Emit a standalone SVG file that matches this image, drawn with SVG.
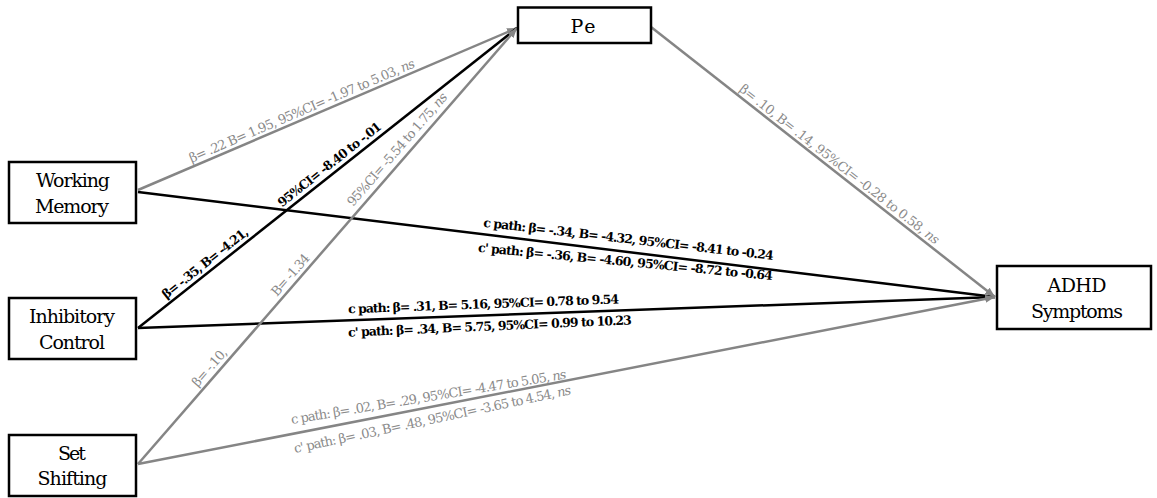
<svg xmlns="http://www.w3.org/2000/svg" width="1157" height="498" viewBox="0 0 1157 498">
  <defs>
    <marker id="arrow-gray" viewBox="0 0 10 8" refX="10" refY="4" markerWidth="10" markerHeight="8" markerUnits="userSpaceOnUse" orient="auto">
      <path d="M0,0 L10,4 L0,8 Z" fill="#858585"/>
    </marker>
  </defs>
  <style>
    text { font-family: "DejaVu Serif", "Liberation Serif", serif; }
    .box { fill: #ffffff; stroke: #000000; stroke-width: 2.5; }
    .node-label { font-size: 19px; fill: #000000; text-anchor: middle; }
    .sig { stroke: #000000; stroke-width: 2.5; fill: none; }
    .ns { stroke: #858585; stroke-width: 2.5; fill: none; marker-end: url(#arrow-gray); }
    .lab-sig { font-size: 12.5px; font-weight: bold; fill: #000000; }
    .lab-ns { font-size: 13px; fill: #8a8a8a; }
  </style>

  <rect width="1157" height="498" fill="#ffffff"/>

  <!-- paths between predictors, mediator and outcome -->
  <g id="connectors">
    <line class="ns" x1="138" y1="190" x2="517" y2="28"/>
    <line class="sig" x1="138" y1="192" x2="995" y2="297"/>
    <line class="sig" x1="138" y1="328" x2="517" y2="28"/>
    <line class="sig" x1="138" y1="328" x2="995" y2="297"/>
    <line class="ns" x1="138" y1="464" x2="517" y2="28"/>
    <line class="ns" x1="138" y1="464" x2="995" y2="297"/>
    <line class="ns" x1="651" y1="27" x2="995" y2="297"/>
  </g>

  <!-- path coefficients -->
  <g id="path-labels">
    <text class="lab-ns" x="191.6" y="162.7" textLength="244" transform="rotate(-23.15 191.6 162.7)">β= .22 B= 1.95, 95%CI= -1.97 to 5.03, <tspan font-style="italic">ns</tspan></text>

    <text class="lab-sig" x="166.3" y="299.3" textLength="106" transform="rotate(-38.36 166.3 299.3)">β= -.35, B= -4.21,</text>
    <text class="lab-sig" x="282" y="207.5" textLength="128" transform="rotate(-38.36 282 207.5)">95%CI= -8.40 to -.01</text>

    <text class="lab-ns" x="197.8" y="387.5" textLength="46" transform="rotate(-48.99 197.8 387.5)">β= -.10,</text>
    <text class="lab-ns" x="277" y="297" textLength="51" transform="rotate(-48.99 277 297)">B= -1.34</text>
    <text class="lab-ns" x="353" y="207" textLength="145" transform="rotate(-48.99 353 207)">95%CI= -5.54 to 1.75, <tspan font-style="italic">ns</tspan></text>

    <text class="lab-ns" x="738.5" y="90.6" textLength="250" transform="rotate(38.13 738.5 90.6)">β= .10, B= .14, 95%CI= -0.28 to 0.58, <tspan font-style="italic">ns</tspan></text>

    <text class="lab-sig" x="483" y="226.7" textLength="292" transform="rotate(6.55 483 226.7)">c path: β= -.34, B= -4.32, 95%CI= -8.41 to -0.24</text>
    <text class="lab-sig" x="477.7" y="251.7" textLength="296" transform="rotate(5.5 477.7 251.7)">c' path: β= -.36, B= -4.60, 95%CI= -8.72 to -0.64</text>

    <text class="lab-sig" x="348.3" y="313.3" textLength="271" transform="rotate(-2.1 348.3 313.3)">c path: β= .31, B= 5.16, 95%CI= 0.78 to 9.54</text>
    <text class="lab-sig" x="348.3" y="336.7" textLength="284" transform="rotate(-2.5 348.3 336.7)">c' path: β= .34, B= 5.75, 95%CI= 0.99 to 10.23</text>

    <text class="lab-ns" x="291.7" y="424" textLength="279" transform="rotate(-9.4 291.7 424)">c path: β= .02, B= .29, 95%CI= -4.47 to 5.05, <tspan font-style="italic">ns</tspan></text>
    <text class="lab-ns" x="295" y="453" textLength="283" transform="rotate(-12 295 453)">c' path: β= .03, B= .48, 95%CI= -3.65 to 4.54, <tspan font-style="italic">ns</tspan></text>
  </g>

  <g id="node-pe">
    <rect class="box" x="518" y="7.5" width="133" height="35.5"/>
    <text class="node-label" x="583" y="32.5" textLength="25">Pe</text>
  </g>

  <g id="node-working-memory">
    <rect class="box" x="9" y="162" width="127" height="61"/>
    <text class="node-label" x="73" y="187" textLength="74">Working</text>
    <text class="node-label" x="72" y="213" textLength="74">Memory</text>
  </g>

  <g id="node-inhibitory-control">
    <rect class="box" x="9" y="298" width="127" height="61"/>
    <text class="node-label" x="72" y="323" textLength="86">Inhibitory</text>
    <text class="node-label" x="72" y="349" textLength="66">Control</text>
  </g>

  <g id="node-set-shifting">
    <rect class="box" x="9" y="435" width="127" height="61"/>
    <text class="node-label" x="72" y="460" textLength="28">Set</text>
    <text class="node-label" x="72.5" y="485" textLength="70">Shifting</text>
  </g>

  <g id="node-adhd">
    <rect class="box" x="997" y="266" width="154" height="63"/>
    <text class="node-label" x="1077" y="292" textLength="59">ADHD</text>
    <text class="node-label" x="1077" y="318" textLength="92">Symptoms</text>
  </g>
</svg>
